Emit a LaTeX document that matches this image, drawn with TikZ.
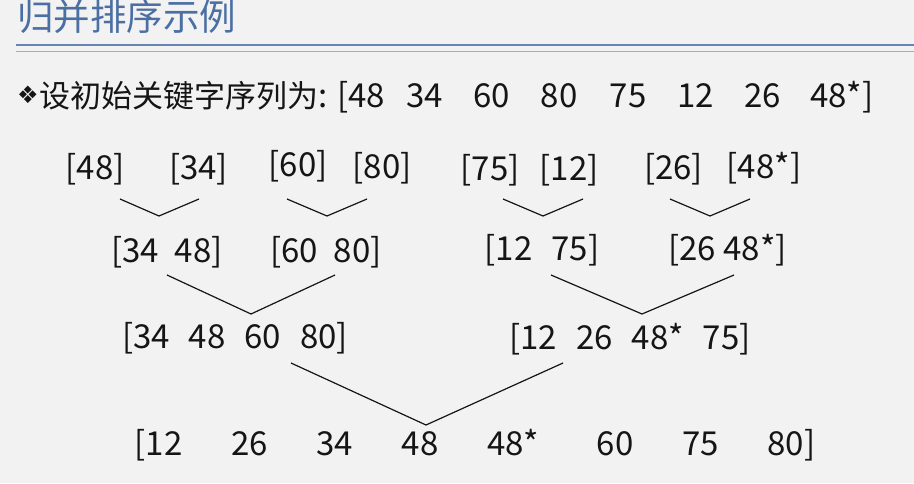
\documentclass[tikz,border=0pt]{standalone}
\usepackage{fontspec}
\setmainfont{Noto Sans CJK SC}
\newfontfamily\symfont{DejaVu Sans}
\definecolor{bgcol}{HTML}{F2F2F2}
\definecolor{titleblue}{HTML}{4C6FA3}
\definecolor{rulelight}{HTML}{9AAFCB}
\definecolor{txtcol}{HTML}{151515}
\newcommand{\kgap}{\hspace{19pt}}
\tikzset{
  key/.style={anchor=base, inner sep=0pt, text=txtcol, font=\fontsize{33}{38}\selectfont},
  merge/.style={line width=1.2pt, draw=txtcol},
}
\begin{document}
\begin{tikzpicture}[x=1pt, y=-1pt]
\fill[bgcol] (0,0) rectangle (914,483);
\useasboundingbox (0,0) rectangle (914,483);
% title and rules
\node[anchor=base west, inner sep=0pt, text=titleblue, font=\fontsize{36.5}{40}\selectfont] (title) at (17,30.5) {归并排序示例};
\draw[titleblue!85, line width=2pt] (16,45) -- (914,45);
\draw[rulelight, line width=1pt] (16,51) -- (914,51);
% first line
\node[anchor=center, inner sep=0pt, text=txtcol, font=\symfont\fontsize{24}{28}\selectfont] (bul) at (28,95) {❖};
\node[key, anchor=base west] (seq) at (39,107) {{\fontsize{31}{36}\selectfont 设初始关键字序列为}: [48\hspace{21.5pt}34\hspace{30.5pt}60\hspace{30.5pt}80\hspace{32.5pt}75\hspace{30.5pt}12\hspace{30.5pt}26\hspace{29.5pt}48*]};
% single runs
\node[key] (s1) at (95,179) {[48]};
\node[key] (s2) at (198.5,179) {[34]};
\node[key] (s3) at (298,176) {[60]};
\node[key] (s4) at (382,178) {[80]};
\node[key] (s5) at (490,180) {[75]};
\node[key] (s6) at (569,180) {[12]};
\node[key] (s7) at (673.5,179) {[26]};
\node[key] (s8) at (764,178) {[48*]};
% runs of two
\node[key] (d1) at (167,262) {[34\hspace{16pt}48]};
\node[key] (d2) at (326,262) {[60\hspace{16pt}80]};
\node[key] (d3) at (542,260) {[12\hspace{19pt}75]};
\node[key] (d4) at (727.5,260) {[26 48*]};
% runs of four
\node[key] (q1) at (235,348) {[34\kgap 48\kgap 60\kgap 80]};
\node[key] (q2) at (630,349) {[12\kgap 26\kgap 48*\kgap 75]};
% result
\node[key, anchor=base west] (res) at (134.5,455) {[12\hspace{48.7pt}26\hspace{48.7pt}34\hspace{48.7pt}48\hspace{48.7pt}48*\hspace{57.7pt}60\hspace{48.7pt}75\hspace{48.7pt}80]};
% merge marks
\coordinate (a1) at (120,199); \coordinate (v1) at (159,216); \coordinate (b1) at (199,199);
\coordinate (a2) at (287,199); \coordinate (v2) at (327,216); \coordinate (b2) at (367,199);
\coordinate (a3) at (503,199); \coordinate (v3) at (543,216); \coordinate (b3) at (583,199);
\coordinate (a4) at (670,199); \coordinate (v4) at (710,216); \coordinate (b4) at (750,199);
\coordinate (a5) at (167,275); \coordinate (v5) at (251,314); \coordinate (b5) at (335,275);
\coordinate (a6) at (551,275); \coordinate (v6) at (642,314); \coordinate (b6) at (734,275);
\coordinate (a7) at (291,363); \coordinate (v7) at (426,425); \coordinate (b7) at (563,363);
\foreach \i in {1,...,7}
  \draw[merge] (a\i) -- (v\i) -- (b\i);
\end{tikzpicture}
\end{document}
